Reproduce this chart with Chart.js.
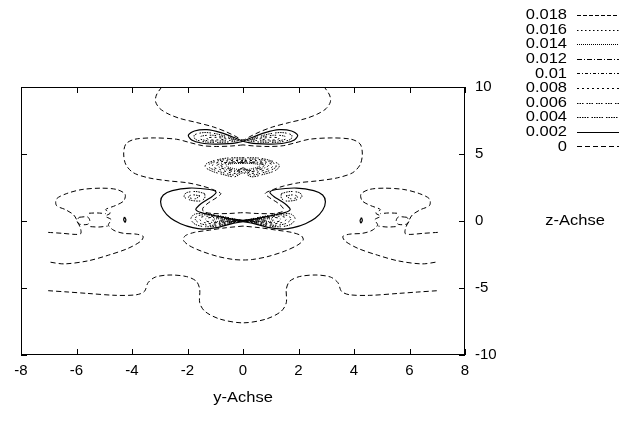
<!DOCTYPE html>
<html lang="de">
<head>
<meta charset="UTF-8" />
<title>Konturplot</title>
<script src="https://cdn.jsdelivr.net/npm/chart.js"></script>
<style>
  html, body { margin: 0; padding: 0; background: #fff; }
  canvas { display: block; }
</style>
</head>
<body>
<canvas id="chart" width="625" height="434"></canvas>
<script>
// Konturwerte (Reihenfolge wie in der Legende)
const levels = ["0.018", "0.016", "0.014", "0.012", "0.01", "0.008", "0.006", "0.004", "0.002", "0"];
const xTicks = [-8, -6, -4, -2, 0, 2, 4, 6, 8];
const yTicks = [-10, -5, 0, 5, 10];

// --- Niveau 0 ---
const topLobe = [[-2.93,10],[-3.12,9.4],[-3.15,8.9],[-3.0,8.4],[-2.7,8.0],[-2.27,7.65],[-1.67,7.35],[-1.07,7.02],[-0.6,6.65],[-0.25,6.3],[0,6.05],
  [0.25,6.3],[0.6,6.65],[1.07,7.02],[1.67,7.35],[2.27,7.65],[2.7,8.0],[3.0,8.4],[3.15,8.9],[3.12,9.4],[2.93,10]];
const midBand = [[0,5.68],[-0.4,5.6],[-0.95,5.56],[-1.45,5.62],[-1.91,5.85],[-2.39,6.1],[-3.2,6.2],[-3.9,6.1],[-4.22,5.75],[-4.3,5.0],[-4.22,4.2],
  [-3.95,3.6],[-3.4,3.22],[-2.7,3.0],[-2.0,2.85],[-1.45,2.6],[-1.09,2.35],[-0.8,2.05],[-0.95,1.75],[-1.25,1.35],[-1.45,0.95],[-1.42,0.7],
  [-1.1,0.56],[-0.5,0.56],[0,0.62],[0.5,0.56],[1.1,0.56],[1.42,0.7],[1.45,0.95],[1.25,1.35],[0.95,1.75],[0.8,2.05],[1.09,2.35],[1.45,2.6],
  [2.0,2.85],[2.7,3.0],[3.4,3.22],[3.95,3.6],[4.22,4.2],[4.3,5.0],[4.22,5.75],[3.9,6.1],[3.2,6.2],[2.39,6.1],[1.91,5.85],[1.45,5.62],
  [0.95,5.56],[0.4,5.6],[0,5.68]];
const lowerLobe = [[0,-0.38],[-0.6,-0.5],[-1.2,-0.68],[-1.75,-0.85],[-2.08,-1.1],[-2.15,-1.42],[-1.95,-1.82],[-1.5,-2.25],[-0.9,-2.65],
  [-0.35,-2.87],[0,-2.91],[0.35,-2.87],[0.9,-2.65],[1.5,-2.25],[1.95,-1.82],[2.17,-1.42],[2.1,-1.1],[1.75,-0.85],[1.2,-0.68],[0.6,-0.5],[0,-0.38]];
const bottomWave = [[-7.02,-5.2],[-6.3,-5.3],[-5.63,-5.4],[-4.55,-5.55],[-3.83,-5.5],[-3.55,-5.25],[-3.42,-4.6],[-3.15,-4.18],[-2.63,-4.03],
  [-2.03,-4.15],[-1.68,-4.5],[-1.56,-5.1],[-1.56,-6.1],[-1.37,-6.75],[-0.83,-7.32],[0,-7.6],[0.83,-7.32],[1.37,-6.75],[1.56,-6.1],[1.56,-5.1],
  [1.68,-4.5],[2.03,-4.15],[2.63,-4.03],[3.15,-4.18],[3.42,-4.6],[3.55,-5.25],[3.83,-5.5],[4.55,-5.55],[5.63,-5.4],[6.3,-5.3],[7.02,-5.2]];
const sideLeft = [[-7.02,-0.85],[-6.5,-0.92],[-6.05,-1.0],[-5.85,-0.95],[-5.85,-0.6],[-5.95,-0.1],[-6.1,0.45],[-6.4,0.85],[-6.72,1.15],
  [-6.72,1.65],[-6.35,2.05],[-5.8,2.35],[-5.1,2.45],[-4.55,2.35],[-4.25,2.0],[-4.3,1.5],[-4.6,1.15],[-4.95,0.85],[-4.78,0.6],[-4.95,0.35],
  [-4.75,0.1],[-4.85,-0.3],[-4.65,-0.7],[-4.3,-0.92],[-3.85,-0.98],[-3.6,-1.15],[-3.68,-1.5],[-4.15,-2.05],[-4.85,-2.55],[-5.6,-2.98],
  [-6.45,-3.2],[-7.02,-3.05]];
const sideRight = [[7.02,-0.85],[6.5,-0.92],[6.05,-1.0],[5.85,-0.95],[5.85,-0.6],[5.95,-0.1],[6.1,0.45],[6.4,0.85],[6.72,1.15],
  [6.72,1.65],[6.35,2.05],[5.8,2.35],[5.1,2.45],[4.55,2.35],[4.25,2.0],[4.3,1.5],[4.6,1.15],[4.95,0.85],[4.78,0.6],[4.95,0.35],
  [4.75,0.1],[4.85,-0.3],[4.65,-0.7],[4.3,-0.92],[3.85,-0.98],[3.6,-1.15],[3.68,-1.5],[4.15,-2.05],[4.85,-2.55],[5.6,-2.98],
  [6.45,-3.2],[7.02,-3.05]];
const knotLeftA = [[-5.55,0.58],[-5.25,0.6],[-4.95,0.55]];
const knotLeftB = [[-5.5,-0.42],[-5.2,-0.45],[-4.88,-0.38]];
const knotLeftLoop = [[-5.9,0.28],[-5.6,0.3],[-5.52,0.02],[-5.6,-0.25],[-5.92,-0.22],[-5.98,0.05],[-5.9,0.28]];
const knotRightA = [[5.55,0.58],[5.25,0.6],[4.95,0.55]];
const knotRightB = [[5.5,-0.42],[5.2,-0.45],[4.88,-0.38]];
const knotRightLoop = [[5.9,0.28],[5.6,0.3],[5.52,0.02],[5.6,-0.25],[5.92,-0.22],[5.98,0.05],[5.9,0.28]];

// --- Niveau 0.002 ---
const capLeft = [[0,5.95],[-0.35,6.25],[-0.8,6.6],[-1.3,6.82],[-1.75,6.72],[-1.97,6.4],[-1.85,6.05],[-1.5,5.82],[-1.0,5.74],[-0.5,5.77],[-0.2,5.85],[0,5.95]];
const capRight = [[0,5.95],[0.35,6.25],[0.8,6.6],[1.3,6.82],[1.75,6.72],[1.97,6.4],[1.85,6.05],[1.5,5.82],[1.0,5.74],[0.5,5.77],[0.2,5.85],[0,5.95]];
const hookLeft = [[0,0.05],[-0.47,0.17],[-1.07,0.42],[-1.5,0.62],[-1.7,0.85],[-1.58,1.18],[-1.35,1.52],[-1.1,1.85],[-0.97,2.15],[-1.2,2.35],
  [-1.93,2.46],[-2.55,2.27],[-2.87,1.94],[-2.97,1.44],[-2.87,0.8],[-2.6,0.2],[-2.25,-0.2],[-1.81,-0.5],[-1.45,-0.6],[-0.95,-0.5],[-0.4,-0.2],[0,-0.05]];
const hookRight = [[0,0.05],[0.47,0.17],[1.07,0.42],[1.5,0.62],[1.7,0.85],[1.58,1.18],[1.35,1.52],[1.1,1.85],[0.97,2.15],[1.2,2.35],
  [1.93,2.46],[2.55,2.27],[2.87,1.94],[2.97,1.44],[2.87,0.8],[2.6,0.2],[2.25,-0.2],[1.81,-0.5],[1.45,-0.6],[0.95,-0.5],[0.4,-0.2],[0,-0.05]];
const spotLeft = [[-4.27,0.3],[-4.22,0.1],[-4.25,-0.1],[-4.3,0.1],[-4.27,0.3]];
const spotRight = [[4.27,0.25],[4.22,0.05],[4.25,-0.15],[4.3,0.05],[4.27,0.25]];

// --- Niveau 0.004 ---
const capLeft4 = [[-0.15,6.0],[-0.5,6.25],[-0.95,6.5],[-1.4,6.6],[-1.75,6.42],[-1.72,6.1],[-1.35,5.9],[-0.85,5.87],[-0.4,5.92],[-0.15,6.0]];
const capRight4 = [[0.15,6.0],[0.5,6.25],[0.95,6.5],[1.4,6.6],[1.75,6.42],[1.72,6.1],[1.35,5.9],[0.85,5.87],[0.4,5.92],[0.15,6.0]];
const crescentLeft = [[-1.38,2.05],[-1.7,2.2],[-2.05,2.1],[-2.12,1.8],[-1.88,1.55],[-1.52,1.5],[-1.38,1.72],[-1.38,2.05]];
const crescentRight = [[1.38,2.05],[1.7,2.2],[2.05,2.1],[2.12,1.8],[1.88,1.55],[1.52,1.5],[1.38,1.72],[1.38,2.05]];
const ring4 = [[0,4.72],[-0.55,4.7],[-1.0,4.53],[-1.32,4.27],[-1.36,4.02],[-1.12,3.72],[-0.72,3.47],[-0.3,3.3],[0,3.6],[0.3,3.3],[0.72,3.47],
  [1.12,3.72],[1.3,4.02],[1.27,4.27],[0.96,4.53],[0.55,4.7],[0,4.72]];
const wedgeLeft4 = [[0,0.02],[-0.4,0.2],[-0.9,0.4],[-1.4,0.56],[-1.75,0.5],[-1.88,0.15],[-1.72,-0.25],[-1.35,-0.43],[-0.85,-0.35],[-0.4,-0.15],[0,0.02]];
const wedgeRight4 = [[0,0.02],[0.4,0.2],[0.9,0.4],[1.4,0.56],[1.75,0.5],[1.88,0.15],[1.72,-0.25],[1.35,-0.43],[0.85,-0.35],[0.4,-0.15],[0,0.02]];

// --- Niveau 0.006 ---
const capLeft6 = [[-0.3,6.05],[-0.7,6.27],[-1.1,6.4],[-1.5,6.33],[-1.55,6.12],[-1.2,5.98],[-0.7,5.98],[-0.3,6.05]];
const capRight6 = [[0.3,6.05],[0.7,6.27],[1.1,6.4],[1.5,6.33],[1.55,6.12],[1.2,5.98],[0.7,5.98],[0.3,6.05]];
const crescentLeft6 = [[-1.55,1.88],[-1.85,1.95],[-1.97,1.78],[-1.72,1.66],[-1.55,1.88]];
const crescentRight6 = [[1.55,1.88],[1.85,1.95],[1.97,1.78],[1.72,1.66],[1.55,1.88]];
const ring6 = [[0,4.62],[-0.55,4.6],[-0.95,4.46],[-1.22,4.23],[-1.22,4.0],[-0.98,3.78],[-0.64,3.56],[-0.3,3.43],[0,3.72],[0.3,3.43],[0.64,3.56],
  [0.98,3.78],[1.18,4.0],[1.18,4.23],[0.92,4.46],[0.55,4.6],[0,4.62]];
const wedgeLeft6 = [[0,0.02],[-0.4,0.17],[-0.9,0.35],[-1.35,0.46],[-1.65,0.38],[-1.72,0.12],[-1.55,-0.18],[-1.2,-0.32],[-0.8,-0.26],[-0.4,-0.1],[0,0.02]];
const wedgeRight6 = [[0,0.02],[0.4,0.17],[0.9,0.35],[1.35,0.46],[1.65,0.38],[1.72,0.12],[1.55,-0.18],[1.2,-0.32],[0.8,-0.26],[0.4,-0.1],[0,0.02]];

// --- Niveau 0.008 ---
const capLeft8 = [[-0.6,6.12],[-0.95,6.24],[-1.3,6.2],[-1.25,6.07],[-0.9,6.05],[-0.6,6.12]];
const capRight8 = [[0.6,6.12],[0.95,6.24],[1.3,6.2],[1.25,6.07],[0.9,6.05],[0.6,6.12]];
const ring8 = [[0,4.52],[-0.5,4.5],[-0.88,4.38],[-1.1,4.18],[-1.06,4.0],[-0.84,3.84],[-0.55,3.66],[-0.28,3.55],[0,3.82],[0.28,3.55],[0.55,3.66],
  [0.84,3.84],[1.04,4.0],[1.07,4.18],[0.86,4.38],[0.5,4.5],[0,4.52]];
const wedgeLeft8 = [[0,0.02],[-0.45,0.14],[-0.9,0.3],[-1.3,0.36],[-1.52,0.27],[-1.55,0.08],[-1.38,-0.12],[-1.05,-0.22],[-0.7,-0.17],[-0.35,-0.07],[0,0.02]];
const wedgeRight8 = [[0,0.02],[0.45,0.14],[0.9,0.3],[1.3,0.36],[1.52,0.27],[1.55,0.08],[1.38,-0.12],[1.05,-0.22],[0.7,-0.17],[0.35,-0.07],[0,0.02]];

// --- Niveau 0.01 / 0.012 / 0.014 / 0.018 ---
const ring10 = [[0,4.42],[-0.45,4.4],[-0.78,4.3],[-0.94,4.15],[-0.84,4.0],[-0.55,3.8],[-0.25,3.68],[0,3.9],[0.25,3.68],[0.55,3.8],[0.82,4.0],
  [0.92,4.15],[0.76,4.3],[0.45,4.4],[0,4.42]];
const wedgeLeft10 = [[0,0.02],[-0.45,0.12],[-0.85,0.23],[-1.18,0.26],[-1.35,0.15],[-1.3,-0.02],[-1.05,-0.12],[-0.7,-0.1],[-0.35,-0.04],[0,0.02]];
const wedgeRight10 = [[0,0.02],[0.45,0.12],[0.85,0.23],[1.18,0.26],[1.35,0.15],[1.3,-0.02],[1.05,-0.12],[0.7,-0.1],[0.35,-0.04],[0,0.02]];
const ring12 = [[0,4.36],[-0.42,4.34],[-0.7,4.24],[-0.8,4.12],[-0.65,3.98],[-0.4,3.84],[-0.2,3.76],[0,3.95],[0.2,3.76],[0.4,3.84],[0.64,3.98],
  [0.78,4.12],[0.68,4.24],[0.42,4.34],[0,4.36]];
const ring14 = [[0,4.3],[-0.38,4.28],[-0.6,4.18],[-0.58,4.06],[-0.35,3.92],[-0.15,3.85],[0,3.98],[0.15,3.85],[0.35,3.92],[0.58,4.06],[0.6,4.18],
  [0.38,4.28],[0,4.3]];
const wedgeLeft14 = [[0,0.02],[-0.4,0.09],[-0.8,0.16],[-1.05,0.14],[-1.1,0.05],[-0.95,-0.04],[-0.6,-0.05],[-0.3,-0.02],[0,0.02]];
const wedgeRight14 = [[0,0.02],[0.4,0.09],[0.8,0.16],[1.05,0.14],[1.1,0.05],[0.95,-0.04],[0.6,-0.05],[0.3,-0.02],[0,0.02]];
const wedgeLeft18 = [[0,0.02],[-0.4,0.06],[-0.7,0.08],[-0.85,0.04],[-0.7,-0.01],[-0.35,0.0],[0,0.02]];
const wedgeRight18 = [[0,0.02],[0.4,0.06],[0.7,0.08],[0.85,0.04],[0.7,-0.01],[0.35,0.0],[0,0.02]];

const curves = [
  ["0", [topLobe, midBand, lowerLobe, bottomWave, sideLeft, sideRight, knotLeftA, knotLeftB, knotLeftLoop, knotRightA, knotRightB, knotRightLoop]],
  ["0.002", [capLeft, capRight, hookLeft, hookRight, spotLeft, spotRight]],
  ["0.004", [capLeft4, capRight4, crescentLeft, crescentRight, ring4, wedgeLeft4, wedgeRight4]],
  ["0.006", [capLeft6, capRight6, crescentLeft6, crescentRight6, ring6, wedgeLeft6, wedgeRight6]],
  ["0.008", [capLeft8, capRight8, ring8, wedgeLeft8, wedgeRight8]],
  ["0.01", [ring10, wedgeLeft10, wedgeRight10]],
  ["0.012", [ring12]],
  ["0.014", [ring14, wedgeLeft14, wedgeRight14]],
  ["0.018", [wedgeLeft18, wedgeRight18]],
];

// Linienmuster wie bei gnuplot
const dashes = {
  "0": [5, 3],
  "0.002": [],
  "0.004": [1.5, 1, 1.5, 1, 1.5, 1, 1.5, 1, 1.5, 3],
  "0.006": [1.5, 1, 1.5, 1, 1.5, 3],
  "0.008": [2, 3],
  "0.01": [3, 2, 1, 2],
  "0.012": [5, 2, 1, 2],
  "0.014": [1, 1],
  "0.016": [1.5, 2.5],
  "0.018": [4, 2],
};

const FONT = "'Liberation Sans', Arial, sans-serif";
const FSIZE = 15;

const datasets = [];
for (const [level, list] of curves) {
  for (const pts of list) {
    datasets.push({
      label: level,
      data: pts.map(([x, y]) => ({ x, y })),
      showLine: true,
      borderColor: "#000",
      borderWidth: level === "0.002" ? 1.2 : 1,
      borderDash: dashes[level],
      pointRadius: 0,
      tension: 0.3,
      fill: false,
    });
  }
}

// Text etwas in die Breite gezogen, wie im Original
function wideText(ctx, txt, x, y, align) {
  const sx = 1.1;
  ctx.save();
  ctx.translate(x, y);
  ctx.scale(sx, 1);
  ctx.textAlign = align;
  ctx.fillText(txt, 0, 0);
  ctx.restore();
}

const framePlugin = {
  id: "frame",
  afterDraw(chart) {
    const { ctx, chartArea: a, scales } = chart;
    ctx.save();
    ctx.strokeStyle = "#000";
    ctx.lineWidth = 1;
    ctx.setLineDash([]);
    ctx.strokeRect(a.left + 0.5, a.top + 0.5, a.right - a.left - 1, a.bottom - a.top - 1);
    const tl = 6;
    ctx.beginPath();
    for (const t of xTicks) {
      const px = Math.round(scales.x.getPixelForValue(t)) + 0.5;
      ctx.moveTo(px, a.bottom); ctx.lineTo(px, a.bottom - tl);
      ctx.moveTo(px, a.top); ctx.lineTo(px, a.top + tl);
    }
    for (const t of yTicks) {
      const py = Math.round(scales.y.getPixelForValue(t)) + 0.5;
      ctx.moveTo(a.left, py); ctx.lineTo(a.left + tl, py);
      ctx.moveTo(a.right, py); ctx.lineTo(a.right - tl, py);
    }
    ctx.stroke();

    // Achsentitel
    ctx.fillStyle = "#000";
    ctx.font = FSIZE + "px " + FONT;
    ctx.textBaseline = "middle";
    wideText(ctx, "y-Achse", (a.left + a.right) / 2, 398, "center");
    wideText(ctx, "z-Achse", 575, (a.top + a.bottom) / 2, "center");

    // Legende
    levels.forEach((lv, i) => {
      const y = 15 + i * 14.6;
      wideText(ctx, lv, 567, y, "right");
      ctx.beginPath();
      ctx.setLineDash(dashes[lv]);
      ctx.lineWidth = lv === "0.002" ? 1.2 : 1;
      ctx.moveTo(577, Math.round(y) + 0.5);
      ctx.lineTo(619, Math.round(y) + 0.5);
      ctx.stroke();
    });
    ctx.restore();
  },
};

new Chart(document.getElementById("chart"), {
  type: "scatter",
  data: { datasets },
  options: {
    responsive: false,
    animation: false,
    layout: { padding: { left: 21, top: 87, right: 0, bottom: 0 } },
    plugins: { legend: { display: false }, tooltip: { enabled: false } },
    scales: {
      x: {
        type: "linear", min: -8, max: 8, position: "bottom",
        grid: { display: false, drawTicks: false }, border: { display: false },
        ticks: { stepSize: 2, color: "#000", padding: 7, maxRotation: 0, font: { family: FONT, size: FSIZE } },
        afterFit(s) { s.height = 79; },
      },
      y: {
        type: "linear", min: -10, max: 10, position: "right",
        grid: { display: false, drawTicks: false }, border: { display: false },
        ticks: { stepSize: 5, color: "#000", padding: 10, font: { family: FONT, size: FSIZE } },
        afterFit(s) { s.width = 160; },
      },
    },
  },
  plugins: [framePlugin],
});
</script>
</body>
</html>
